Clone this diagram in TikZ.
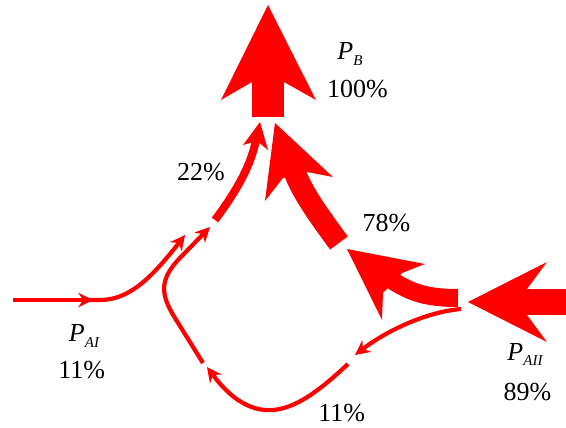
\documentclass[tikz,border=0pt]{standalone}
\usepackage{fontspec}
\setmainfont{Liberation Serif}
\usetikzlibrary{arrows.meta}
\definecolor{flow}{RGB}{255,0,0}
\tikzset{
  thinflow/.style={draw=flow, line width=4.2pt},
  thinhead/.style={-{Stealth[length=15pt,width=15pt,inset=5pt,line width=0pt]}},
  bighead/.style={fill=flow},
  lbl/.style={font=\rmfamily\fontsize{26}{26}\selectfont, anchor=base, inner sep=0pt, text=black},
}
\newcommand{\sublbl}[2]{{\itshape #1}\raisebox{-5.5pt}{\fontsize{15}{15}\selectfont\itshape #2}}
\begin{document}
\begin{tikzpicture}[x=1pt,y=-1pt]
\useasboundingbox (0,0) rectangle (566,428);
% ---- coordinates
\coordinate (aiiEnd) at (566,302);
\coordinate (aiiTip) at (468,302);
\coordinate (bTip) at (268,5);
\coordinate (s78a) at (339,243);
\coordinate (s78b) at (294,170);
\coordinate (t78) at (275,123);
\coordinate (sspa) at (458,298);
\coordinate (sspb) at (390,279);
\coordinate (tsp) at (347,249);
\coordinate (s22a) at (215,220);
\coordinate (s22b) at (256,140);
\coordinate (t22) at (260,122);
\coordinate (aiStart) at (13,300);
\coordinate (aiMid) at (93,300);
\coordinate (aiTip) at (185,235);
\coordinate (l1a) at (461,309);
\coordinate (l1b) at (355,355);
\coordinate (l2a) at (348,364);
\coordinate (l2m) at (265,410);
\coordinate (l2b) at (207,367);
\coordinate (l3a) at (203,363);
\coordinate (l3b) at (210,227);
% ---- P_AII input arrow
\fill[bighead] (527,289) rectangle (aiiEnd |- 0,315);
\fill[bighead] (aiiTip) -- (547,262) -- (527,289) -- (527,315) -- (547,342) -- cycle;
% ---- P_B output arrow
\fill[bighead] (252,80) rectangle (284,117);
\fill[bighead] (bTip) -- (316,100) -- (284,82) -- (252,82) -- (221,100) -- cycle;
% ---- 78% arrow
\draw[draw=flow, line width=22pt] (s78a) .. controls (325,224) and (301,192) .. (s78b);
\fill[bighead] (t78) -- (333,177) -- (307,172) -- (283,178) -- (265,201) -- cycle;
% ---- split arrow from P_AII
\draw[draw=flow, line width=18pt] (sspa) .. controls (430,298) and (412,294) .. (sspb);
\fill[bighead] (tsp) -- (425,264) -- (402,273) -- (383,293) -- (382,320) -- cycle;
% ---- 22% arrow
\draw[draw=flow, line width=8pt] (s22a) .. controls (232,197) and (250,170) .. (s22b);
\fill[bighead] (t22) -- (268,150) -- (257,141) -- (243,145) -- cycle;
% ---- P_AI input
\draw[thinflow, thinhead] (aiStart) -- (aiMid);
\draw[thinflow, thinhead] (86,300) -- (100,300) .. controls (128,300) and (150,280) .. (aiTip);
% ---- loop 11%
\draw[thinflow, thinhead] (l1a) .. controls (425,312) and (385,332) .. (l1b);
\draw[thinflow, thinhead] (l2a) .. controls (315,395) and (290,412) .. (l2m) .. controls (240,408) and (222,387) .. (l2b);
\draw[thinflow, thinhead] (l3a) -- (175,318) .. controls (160,294) and (160,280) .. (178,260) -- (l3b);
% ---- labels
\node[lbl] (pb) at (350,60) {\sublbl{P}{B}};
\node[lbl] (pb100) at (357.5,98) {100\%};
\node[lbl] (l22) at (201,181) {22\%};
\node[lbl] (l78) at (386.5,232) {78\%};
\node[lbl] (pai) at (84,341.7) {\sublbl{P}{AI}};
\node[lbl] (l11a) at (81.7,378.3) {11\%};
\node[lbl] (paii) at (525,360) {\sublbl{P}{AII}};
\node[lbl] (l89) at (527.5,400) {89\%};
\node[lbl] (l11b) at (341.7,421.7) {11\%};
\end{tikzpicture}
\end{document}
